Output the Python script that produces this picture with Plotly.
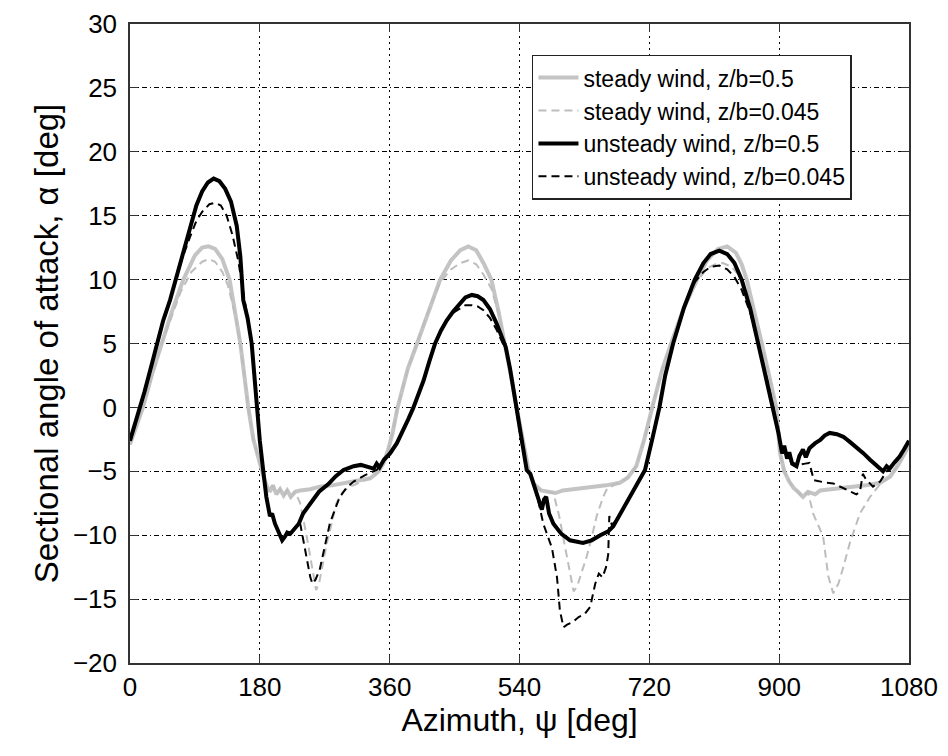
import plotly.graph_objects as go

# ---------------- data ----------------
# steady wind, z/b=0.5
s5_x = [0, 10, 18, 30, 44, 58, 74, 90, 100, 109, 118, 128, 138, 146, 153, 158.5, 164, 171, 180, 186, 190,
        194, 198, 203, 208, 213, 218, 223, 229, 236, 250, 263, 280, 300, 320, 333, 345, 352, 358, 364, 371,
        385, 398, 414, 430, 445, 458, 469, 480, 490, 501, 511, 520, 528, 536, 544, 553, 560, 570, 580,
        590, 600, 615, 633, 660, 679, 690, 702, 713, 724, 738, 752, 768, 786, 800, 815, 828, 840, 848,
        855, 866, 876, 886, 896, 901, 907, 914, 920, 926, 933, 940, 950, 957, 975, 1003, 1020, 1040,
        1054, 1065, 1075, 1080]
s5_y = [-2.9, -1.2, 0.0, 2.5, 5.0, 7.5, 10.0, 11.9, 12.5, 12.6, 12.4, 11.6, 10.0, 7.5, 5.0, 2.5, 0.0, -2.5,
        -4.5, -5.6, -6.2, -6.6, -6.1, -6.8, -6.4, -6.9, -6.5, -7.0, -6.6, -6.5, -6.4, -6.2, -6.1, -5.9,
        -5.7, -5.55, -5.0, -4.3, -3.3, -2.0, 0.0, 3.0, 5.0, 7.6, 10.0, 11.5, 12.3, 12.6, 12.3, 11.3,
        10.0, 7.5, 5.0, 2.5, 0.0, -2.5, -5.0, -6.0, -6.5, -6.6, -6.7, -6.5, -6.4, -6.3, -6.1, -5.9,
        -5.5, -4.6, -2.5, 0.0, 3.0, 5.3, 7.8, 10.0, 11.5, 12.4, 12.6, 12.1, 11.2, 10.0, 7.5, 5.0, 2.5,
        0.0, -3.5, -5.0, -5.8, -6.3, -6.6, -7.0, -6.6, -6.8, -6.5, -6.4, -6.2, -6.1, -5.9, -5.4, -4.5,
        -3.5, -3.0]

# steady wind, z/b=0.045
s045_x = [0, 18, 44, 70, 85, 100, 109, 118, 128, 136, 146, 153, 158.5, 164, 171, 180, 186, 190, 194, 198,
          203, 208, 213, 218, 223, 229, 236, 245, 252, 258, 262, 267, 273, 280, 286, 295, 305, 326, 340,
          352, 358, 364, 371, 385, 398, 414, 430, 445, 458, 469, 480, 490, 501, 511, 520, 528, 536, 544,
          553, 560, 570, 580, 587, 595, 600, 605, 610, 615, 620, 626, 633, 640, 647, 656, 662, 679, 690,
          702, 713, 724, 738, 752, 768, 786, 800, 812, 822, 834, 845, 855, 866, 876, 886, 896, 901, 907,
          914, 920, 926, 933, 940, 947, 954, 961, 968, 975, 982, 989, 998, 1005, 1012, 1026, 1040, 1054,
          1065, 1075, 1080]
s045_y = [-2.9, 0.0, 5.0, 9.0, 10.6, 11.4, 11.6, 11.4, 10.6, 9.5, 7.2, 5.0, 2.5, 0.0, -2.5, -4.5, -5.6,
          -6.2, -6.6, -6.1, -6.8, -6.4, -6.9, -6.5, -7.0, -6.6, -7.5, -10.1, -12.5, -14.3, -13.8, -12.3,
          -10.6, -9.0, -7.5, -6.6, -6.2, -5.7, -5.3, -4.3, -3.3, -2.0, 0.0, 3.0, 5.0, 7.6, 9.8, 10.8,
          11.3, 11.5, 11.2, 10.4, 9.3, 7.3, 5.0, 2.5, 0.0, -2.5, -5.0, -6.0, -6.5, -6.6, -6.7, -8.5,
          -10.0, -11.2, -13.0, -14.4, -14.0, -13.0, -11.7, -10.2, -8.5, -7.0, -6.3, -5.9, -5.5, -4.6,
          -2.5, 0.0, 3.0, 5.3, 7.8, 9.8, 10.9, 11.2, 11.3, 11.0, 10.3, 9.3, 7.2, 5.0, 2.5, 0.0, -3.5,
          -5.0, -5.8, -6.3, -6.6, -7.0, -6.6, -8.3, -9.2, -10.1, -13.2, -14.55, -13.8, -12.5, -10.6,
          -9.4, -8.3, -7.0, -6.0, -5.4, -4.5, -3.5, -3.0]

# unsteady wind, z/b=0.5
u5_x = [0, 6, 14, 20, 28, 37, 46, 55.5, 62, 72, 83, 92, 100, 108, 116, 124, 132, 140, 148, 153, 157, 163,
        168.7, 172, 175.6, 180, 184.8, 189, 194, 197, 201, 206, 211, 215, 218, 222, 226, 230, 234, 240,
        246, 252, 262, 275, 285, 296, 310, 320, 330, 338, 342, 346, 352, 360.5, 370, 379, 386, 393, 400,
        407, 415, 423, 431, 439, 448, 457, 465, 474, 482, 490, 499, 508, 515, 521, 527, 534, 542, 550,
        555, 559, 563, 566, 571, 574, 577, 581, 587, 598, 610, 628, 640, 652, 663, 670, 675, 684, 693,
        703, 714, 724, 734, 742, 753, 768, 783, 795, 805, 817, 828, 838, 848, 860, 871, 882, 892, 899,
        904, 907, 911, 914, 918, 924, 928, 933, 937, 942, 950, 957, 963, 970, 980, 989, 998, 1007, 1017,
        1026, 1035, 1044, 1049, 1053, 1060, 1067, 1073, 1080]
u5_y = [-2.6, -1.5, 0.0, 1.2, 2.9, 5.0, 6.8, 8.4, 9.7, 11.8, 14.0, 15.8, 16.9, 17.6, 17.9, 17.7, 17.1,
        16.1, 14.2, 11.8, 8.4, 7.0, 5.0, 2.6, 0.0, -2.6, -5.0, -7.0, -8.5, -8.3, -9.1, -9.8, -10.4,
        -10.1, -9.8, -9.9, -9.6, -9.4, -9.1, -8.3, -7.8, -7.3, -6.6, -6.0, -5.4, -4.9, -4.6, -4.5,
        -4.7, -4.8, -4.4, -4.7, -4.1, -3.6, -2.8, -1.8, -0.9, 0.0, 1.1, 2.1, 3.6, 5.0, 6.0, 6.8, 7.5,
        8.1, 8.6, 8.8, 8.7, 8.4, 7.7, 6.6, 5.6, 4.7, 3.0, 0.5, -2.5, -4.9, -5.2, -5.9, -6.6, -7.3,
        -8.0, -7.2, -7.0, -8.3, -9.1, -9.9, -10.4, -10.6, -10.4, -10.0, -9.7, -9.3, -8.8, -7.9, -7.0,
        -6.0, -4.9, -2.5, 0.0, 2.5, 5.0, 7.8, 10.0, 11.3, 12.0, 12.26, 12.0, 11.3, 10.0, 7.7, 5.0, 2.5,
        0.0, -2.0, -3.6, -3.0, -4.0, -3.5, -4.4, -4.6, -3.8, -3.3, -3.9, -3.2, -2.8, -2.55, -2.2, -2.0,
        -2.1, -2.3, -2.7, -3.1, -3.6, -4.1, -4.6, -5.0, -4.6, -4.8, -4.3, -3.85, -3.3, -2.6]

# unsteady wind, z/b=0.045
u045_x = [0, 6, 14, 20, 28, 37, 46, 55.5, 62, 72, 83, 92, 100, 110, 118, 126, 134, 142, 150, 157, 163,
          168.7, 172, 175.6, 180, 184.8, 189, 194, 197, 201, 206, 211, 215, 218, 222, 226, 230, 236, 238,
          245, 250, 253, 257, 263, 270, 277, 284, 291, 300, 310, 326, 342, 350, 360.5, 370, 379, 386,
          393, 400, 407, 415, 423, 431, 439, 448, 457, 465, 474, 482, 490, 499, 508, 515, 521, 527, 534,
          542, 550, 555, 559, 563, 566, 573, 580, 585, 592, 596, 601, 606, 614, 622, 630, 638, 645, 650,
          655, 660, 663, 664.5, 668, 675, 684, 693, 703, 714, 724, 734, 742, 753, 768, 783, 795, 805,
          817, 828, 838, 848, 860, 871, 882, 892, 899, 904, 907, 911, 918, 926, 936, 942, 948, 956, 966,
          975, 984, 994, 1002, 1007, 1012, 1016, 1020, 1030, 1040, 1049, 1053, 1060, 1067, 1073, 1080]
u045_y = [-2.6, -1.5, 0.0, 1.2, 2.9, 5.0, 6.8, 8.4, 9.7, 11.6, 13.3, 14.6, 15.3, 15.9, 16.0, 15.8, 15.0,
          13.5, 11.5, 9.0, 7.0, 5.0, 2.6, 0.0, -2.6, -5.0, -7.0, -8.5, -8.3, -9.1, -9.8, -10.4, -10.1,
          -9.8, -9.9, -9.6, -9.4, -9.1, -9.7, -11.7, -13.3, -13.8, -13.5, -12.7, -11.0, -9.1, -8.0,
          -7.0, -6.3, -5.8, -5.3, -4.9, -4.3, -3.6, -2.8, -1.8, -0.9, 0.0, 1.1, 2.1, 3.6, 5.0, 6.0,
          6.8, 7.4, 7.7, 8.0, 8.0, 7.9, 7.6, 7.0, 6.1, 5.2, 4.5, 3.0, 0.5, -2.5, -4.9, -5.2, -5.9,
          -6.6, -7.3, -9.1, -10.3, -11.0, -13.3, -15.9, -17.2, -17.0, -16.8, -16.4, -16.2, -15.6, -13.8,
          -13.0, -13.3, -12.5, -11.5, -8.5, -9.2, -8.8, -7.9, -7.0, -6.0, -4.9, -2.5, 0.0, 2.5, 5.0,
          7.8, 9.8, 10.6, 11.0, 11.1, 10.8, 10.2, 9.2, 7.4, 5.0, 2.5, 0.0, -2.0, -3.6, -3.0, -4.0, -4.3,
          -4.5, -4.4, -4.35, -5.7, -5.8, -5.9, -5.95, -6.2, -6.5, -6.7, -6.8, -6.6, -5.2, -5.6, -6.2,
          -5.8, -5.0, -4.8, -4.3, -3.85, -3.3, -2.6]

series_names = ["steady wind, z/b=0.5", "steady wind, z/b=0.045",
                "unsteady wind, z/b=0.5", "unsteady wind, z/b=0.045"]
x_ticks = [0, 180, 360, 540, 720, 900, 1080]
y_ticks = [-20, -15, -10, -5, 0, 5, 10, 15, 20, 25, 30]

# ---------------- figure ----------------
FONT = "Liberation Sans, Arial, Helvetica, sans-serif"
GRAY = "#c4c4c4"

fig = go.Figure()
fig.add_trace(go.Scatter(x=s5_x, y=s5_y, mode="lines", name=series_names[0],
                         line=dict(color=GRAY, width=4)))
fig.add_trace(go.Scatter(x=s045_x, y=s045_y, mode="lines", name=series_names[1],
                         line=dict(color="#bdbdbd", width=2, dash="8px,5px")))
fig.add_trace(go.Scatter(x=u5_x, y=u5_y, mode="lines", name=series_names[2],
                         line=dict(color="black", width=4)))
fig.add_trace(go.Scatter(x=u045_x, y=u045_y, mode="lines", name=series_names[3],
                         line=dict(color="black", width=2, dash="8px,5px")))

axis_common = dict(
    showline=True, linecolor="#333333", linewidth=1.5, mirror="ticks",
    ticks="inside", ticklen=8, tickcolor="#333333", tickwidth=1,
    showgrid=True, gridcolor="black", gridwidth=1, automargin=False,
    zeroline=False, tickfont=dict(family=FONT, size=26, color="black"),
)

fig.update_xaxes(range=[0, 1080], tickvals=x_ticks, griddash="2px,4px",
                 title=dict(text="Azimuth, ψ [deg]", font=dict(family=FONT, size=32, color="black"),
                            standoff=0),
                 **axis_common)
fig.update_yaxes(range=[-20, 30], tickvals=y_ticks, griddash="5px,3px,1px,3px",
                 ticklabelstandoff=6,
                 title=dict(text="Sectional angle of attack, α [deg]",
                            font=dict(family=FONT, size=33, color="black"), standoff=4),
                 **axis_common)

fig.update_layout(
    width=932, height=740,
    margin=dict(l=122, r=31, t=16, b=85),
    paper_bgcolor="white", plot_bgcolor="white",
    font=dict(family=FONT, color="black"),
    showlegend=True,
    legend=dict(x=0.516, y=0.952, xanchor="left", yanchor="top",
                bgcolor="white", bordercolor="#222222", borderwidth=1.5,
                font=dict(family=FONT, size=23, color="black"),
                tracegroupgap=0, itemwidth=40),
)

fig.write_html("out.html")
